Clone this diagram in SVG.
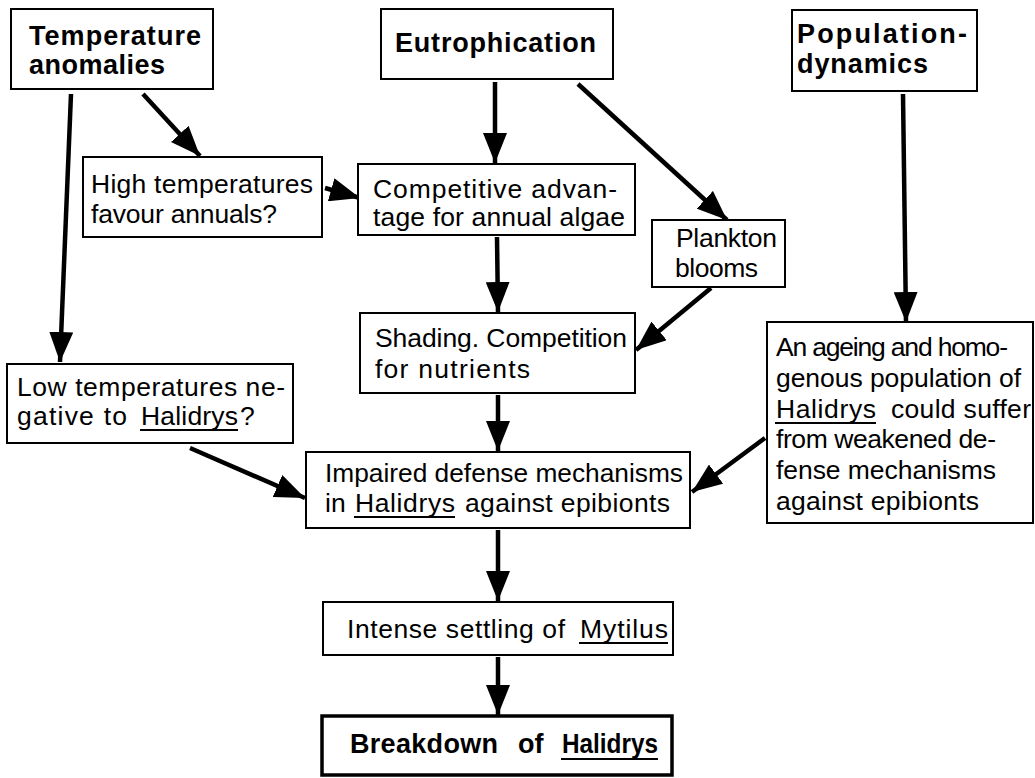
<svg xmlns="http://www.w3.org/2000/svg" width="1035" height="778" viewBox="0 0 1035 778">
  <style>
    .box { fill: #fff; stroke: #000; stroke-width: 2; }
    .box-final { fill: #fff; stroke: #000; stroke-width: 3.5; }
    .t { font-family: "Liberation Sans", Arial, Helvetica, sans-serif; font-size: 26.5px; fill: #000; }
    .b { font-weight: bold; font-size: 27px; }
    .ul { stroke: #000; stroke-width: 1.8; }
    .arrow { stroke: #000; stroke-width: 4.5; fill: none; marker-end: url(#head); }
  </style>
  <defs>
    <marker id="head" viewBox="0 0 30 24" refX="30" refY="12" markerWidth="30" markerHeight="24" markerUnits="userSpaceOnUse" orient="auto">
      <path d="M0,0 L30,12 L0,24 Z" fill="#000"/>
    </marker>
  </defs>
  <rect width="1035" height="778" fill="#fff"/>

  <!-- connectors -->
  <g id="connectors">
    <line class="arrow" x1="143" y1="94" x2="200" y2="156"/>
    <line class="arrow" x1="71" y1="94" x2="60" y2="362"/>
    <line class="arrow" x1="325" y1="188" x2="360" y2="198"/>
    <line class="arrow" x1="495" y1="82" x2="495" y2="163"/>
    <line class="arrow" x1="578" y1="84" x2="727" y2="220"/>
    <line class="arrow" x1="903" y1="94" x2="906" y2="322"/>
    <line class="arrow" x1="497" y1="237" x2="498" y2="312"/>
    <line class="arrow" x1="711" y1="288" x2="636" y2="350"/>
    <line class="arrow" x1="498" y1="395" x2="498" y2="451"/>
    <line class="arrow" x1="190" y1="448" x2="305" y2="498"/>
    <line class="arrow" x1="765" y1="438" x2="692" y2="492"/>
    <line class="arrow" x1="498" y1="530" x2="498" y2="601"/>
    <line class="arrow" x1="498" y1="657" x2="498" y2="715"/>
  </g>

  <g id="temperature-anomalies">
    <rect class="box" x="11" y="9" width="202" height="80"/>
    <text class="t b" x="29" y="45" textLength="172" lengthAdjust="spacing">Temperature</text>
    <text class="t b" x="29" y="74" textLength="136" lengthAdjust="spacing">anomalies</text>
  </g>

  <g id="eutrophication">
    <rect class="box" x="381" y="9" width="232" height="70"/>
    <text class="t b" x="395" y="52" textLength="201" lengthAdjust="spacing">Eutrophication</text>
  </g>

  <g id="population-dynamics">
    <rect class="box" x="792" y="10" width="185" height="81"/>
    <text class="t b" x="797" y="43" textLength="170" lengthAdjust="spacing">Population-</text>
    <text class="t b" x="797" y="73" textLength="131" lengthAdjust="spacing">dynamics</text>
  </g>

  <g id="high-temperatures">
    <rect class="box" x="83" y="157" width="239" height="80"/>
    <text class="t" x="91" y="193" textLength="222" lengthAdjust="spacing">High temperatures</text>
    <text class="t" x="91" y="223" textLength="186" lengthAdjust="spacing">favour annuals?</text>
  </g>

  <g id="competitive-advantage">
    <rect class="box" x="358" y="164" width="277" height="71"/>
    <text class="t" x="373" y="198" textLength="244" lengthAdjust="spacing">Competitive advan-</text>
    <text class="t" x="373" y="226" textLength="252" lengthAdjust="spacing">tage for annual algae</text>
  </g>

  <g id="plankton-blooms">
    <rect class="box" x="652" y="220" width="133" height="67"/>
    <text class="t" x="676" y="247" textLength="101" lengthAdjust="spacing">Plankton</text>
    <text class="t" x="675" y="277" textLength="83" lengthAdjust="spacing">blooms</text>
  </g>

  <g id="shading">
    <rect class="box" x="360" y="313" width="275" height="80"/>
    <text class="t" x="375" y="347" textLength="252" lengthAdjust="spacing">Shading. Competition</text>
    <text class="t" x="375" y="378" textLength="155" lengthAdjust="spacing">for  nutrients</text>
  </g>

  <g id="low-temperatures">
    <rect class="box" x="7" y="364" width="286" height="79"/>
    <text class="t" x="17" y="396" textLength="268" lengthAdjust="spacing">Low temperatures ne-</text>
    <text class="t" x="17" y="425" textLength="110" lengthAdjust="spacing">gative to</text>
    <text class="t" x="141" y="425" textLength="97" lengthAdjust="spacing">Halidrys</text>
    <text class="t" x="240" y="425">?</text>
    <line class="ul" x1="140" y1="430" x2="238" y2="430"/>
  </g>

  <g id="ageing-population">
    <rect class="box" x="767" y="322" width="266" height="201"/>
    <text class="t" x="776" y="356" textLength="232" lengthAdjust="spacing">An ageing and homo-</text>
    <text class="t" x="776" y="387" textLength="245" lengthAdjust="spacing">genous population of</text>
    <text class="t" x="776" y="418" textLength="100" lengthAdjust="spacing">Halidrys</text>
    <text class="t" x="891" y="418" textLength="140" lengthAdjust="spacing">could suffer</text>
    <line class="ul" x1="775" y1="423" x2="876" y2="423"/>
    <text class="t" x="776" y="448" textLength="220" lengthAdjust="spacing">from weakened de-</text>
    <text class="t" x="776" y="479" textLength="220" lengthAdjust="spacing">fense mechanisms</text>
    <text class="t" x="776" y="510" textLength="203" lengthAdjust="spacing">against epibionts</text>
  </g>

  <g id="impaired-defense">
    <rect class="box" x="306" y="452" width="384" height="76"/>
    <text class="t" x="325" y="482" textLength="358" lengthAdjust="spacingAndGlyphs">Impaired defense mechanisms</text>
    <text class="t" x="325" y="512">in</text>
    <text class="t" x="355" y="512" textLength="100" lengthAdjust="spacing">Halidrys</text>
    <text class="t" x="465" y="512" textLength="205" lengthAdjust="spacing">against epibionts</text>
    <line class="ul" x1="354" y1="517" x2="455" y2="517"/>
  </g>

  <g id="mytilus-settling">
    <rect class="box" x="323" y="602" width="350" height="53"/>
    <text class="t" x="347" y="638" textLength="218" lengthAdjust="spacing">Intense settling of</text>
    <text class="t" x="580" y="638" textLength="88" lengthAdjust="spacing">Mytilus</text>
    <line class="ul" x1="579" y1="643" x2="668" y2="643"/>
  </g>

  <g id="breakdown">
    <rect class="box-final" x="322" y="716" width="350" height="59"/>
    <text class="t b" x="350" y="753" textLength="148" lengthAdjust="spacing">Breakdown</text>
    <text class="t b" x="518" y="753">of</text>
    <text class="t b" x="562" y="753" textLength="96" lengthAdjust="spacingAndGlyphs">Halidrys</text>
    <line class="ul" x1="561" y1="759" x2="658" y2="759" style="stroke-width:2.2"/>
  </g>
</svg>
